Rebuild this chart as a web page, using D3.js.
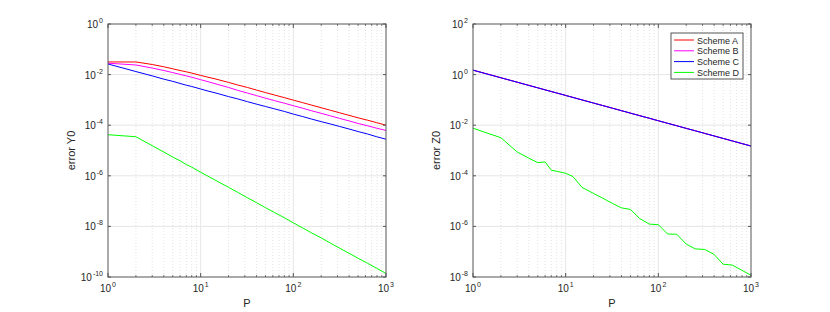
<!DOCTYPE html>
<html>
<head>
<meta charset="utf-8">
<script src="https://cdn.jsdelivr.net/npm/d3@7"></script>
<style>
  body { margin: 0; background: #fff; }
  svg { font-family: "Liberation Sans", Arial, sans-serif; }
</style>
</head>
<body>
<div id="chart"></div>
<script>
// values, shared P grid
const P = [1, 2, 3, 4, 5, 6, 7, 8, 10, 12, 15, 20, 25, 32, 40, 50, 63, 80, 100,
           126, 158, 200, 251, 316, 398, 501, 631, 794, 1000];

// left panel, error Y0
const y0A = [3.16e-2, 3.16e-2, 2.51e-2, 2.04e-2, 1.70e-2, 1.45e-2, 1.29e-2, 1.15e-2, 9.3e-3, 7.9e-3,
             6.5e-3, 4.9e-3, 3.9e-3, 3.1e-3, 2.45e-3, 1.95e-3, 1.55e-3, 1.23e-3, 9.8e-4,
             7.8e-4, 6.2e-4, 4.9e-4, 3.9e-4, 3.1e-4, 2.45e-4, 1.95e-4, 1.58e-4, 1.26e-4, 1.0e-4];
const y0B = [2.82e-2, 2.40e-2, 1.82e-2, 1.45e-2, 1.20e-2, 1.02e-2, 8.9e-3, 7.9e-3, 6.3e-3, 5.25e-3,
             4.17e-3, 3.1e-3, 2.4e-3, 1.86e-3, 1.48e-3, 1.17e-3, 9.3e-4, 7.4e-4, 5.9e-4,
             4.7e-4, 3.7e-4, 2.95e-4, 2.34e-4, 1.86e-4, 1.48e-4, 1.17e-4, 9.5e-5, 7.6e-5, 6.2e-5];
const y0C = [2.63e-2, 1.32e-2, 8.9e-3, 6.6e-3, 5.4e-3, 4.47e-3, 3.8e-3, 3.4e-3, 2.7e-3, 2.24e-3,
             1.82e-3, 1.35e-3, 1.10e-3, 8.5e-4, 6.8e-4, 5.5e-4, 4.4e-4, 3.5e-4, 2.75e-4,
             2.2e-4, 1.74e-4, 1.38e-4, 1.12e-4, 8.9e-5, 7.1e-5, 5.6e-5, 4.5e-5, 3.5e-5, 2.8e-5];
const y0D = [4.2e-5, 3.5e-5, 1.55e-5, 8.7e-6, 5.5e-6, 3.9e-6, 2.8e-6, 2.2e-6, 1.38e-6, 9.6e-7,
             6.2e-7, 3.5e-7, 2.24e-7, 1.35e-7, 8.7e-8, 5.5e-8, 3.5e-8, 2.2e-8, 1.38e-8,
             8.7e-9, 5.5e-9, 3.5e-9, 2.2e-9, 1.38e-9, 8.7e-10, 5.5e-10, 3.5e-10, 2.2e-10, 1.38e-10];

// right panel, error Z0 (A, B and C lie on top of each other)
const z0ABC = [1.5, 0.75, 0.5, 0.375, 0.3, 0.25, 0.214, 0.188, 0.15, 0.125,
               0.1, 0.075, 0.06, 0.047, 0.0375, 0.03, 0.0238, 0.0188, 0.015,
               0.0119, 0.0095, 0.0075, 0.006, 0.00475, 0.00377, 0.003, 0.00238, 0.00189, 0.0015];
const z0D = [7.6e-3, 3.2e-3, 8.7e-4, 5.0e-4, 3.3e-4, 3.55e-4, 1.66e-4, 1.51e-4, 1.26e-4, 9.3e-5,
             3.5e-5, 2.0e-5, 1.32e-5, 8.1e-6, 5.4e-6, 4.7e-6, 2.04e-6, 1.23e-6, 1.17e-6,
             5.0e-7, 4.9e-7, 2.0e-7, 1.29e-7, 1.23e-7, 7.9e-8, 3.2e-8, 2.95e-8, 1.86e-8, 1.17e-8];

const schemes = ["Scheme A", "Scheme B", "Scheme C", "Scheme D"];
const colors = ["#ff0000", "#ff00ff", "#0000ff", "#00ff00"];

const xTickExp = [0, 1, 2, 3];
const y0TickExp = [0, -2, -4, -6, -8, -10];
const z0TickExp = [2, 0, -2, -4, -6, -8];

const W = 830, H = 312;
const svg = d3.select("#chart").append("svg")
    .attr("width", W)
    .attr("height", H);

function panel(left, right, yExp, series, ylab, withLegend) {
  const top = 24, bottom = 277;
  const x = d3.scaleLog().domain([1, 1000]).range([left, right]);
  const y = d3.scaleLog()
      .domain([Math.pow(10, d3.min(yExp)), Math.pow(10, d3.max(yExp))])
      .range([bottom, top]);
  const g = svg.append("g");

  // minor x grid (dotted) and major grid
  const minor = [];
  for (let d = 1; d < 1000; d *= 10)
    for (let k = 2; k <= 9; k++) minor.push(d * k);

  g.selectAll(".xminor").data(minor).enter().append("line")
      .attr("x1", d => x(d)).attr("x2", d => x(d))
      .attr("y1", top).attr("y2", bottom)
      .attr("stroke", "#dadada").attr("stroke-width", 0.8)
      .attr("stroke-dasharray", "1,2");
  g.selectAll(".xmajor").data([10, 100]).enter().append("line")
      .attr("x1", d => x(d)).attr("x2", d => x(d))
      .attr("y1", top).attr("y2", bottom)
      .attr("stroke", "#e6e6e6").attr("stroke-width", 1);
  g.selectAll(".ymajor").data(yExp.slice(1, -1)).enter().append("line")
      .attr("x1", left).attr("x2", right)
      .attr("y1", e => y(Math.pow(10, e))).attr("y2", e => y(Math.pow(10, e)))
      .attr("stroke", "#e6e6e6").attr("stroke-width", 1);

  // data lines
  const line = d3.line().x(d => x(d[0])).y(d => y(d[1]));
  series.forEach((vals, i) => {
    g.append("path")
        .datum(P.map((p, j) => [p, vals[j]]))
        .attr("d", line)
        .attr("fill", "none")
        .attr("stroke", colors[i])
        .attr("stroke-width", 1);
  });

  // ticks (inside, all four sides)
  const axc = "#555";
  g.selectAll(".xt").data(xTickExp).enter().append("path")
      .attr("d", e => { const px = x(Math.pow(10, e));
        return `M${px},${bottom}v-4M${px},${top}v4`; })
      .attr("stroke", axc);
  g.selectAll(".xm").data(minor).enter().append("path")
      .attr("d", d => `M${x(d)},${bottom}v-2M${x(d)},${top}v2`)
      .attr("stroke", axc).attr("stroke-width", 0.8);
  g.selectAll(".yt").data(yExp).enter().append("path")
      .attr("d", e => { const py = y(Math.pow(10, e));
        return `M${left},${py}h3M${right},${py}h-3`; })
      .attr("stroke", axc);

  // box
  g.append("rect")
      .attr("x", left).attr("y", top)
      .attr("width", right - left).attr("height", bottom - top)
      .attr("fill", "none").attr("stroke", axc).attr("stroke-width", 1);

  // tick labels
  const yl = g.selectAll(".ylab").data(yExp).enter().append("text")
      .attr("x", left - 5)
      .attr("y", e => y(Math.pow(10, e)) + 4)
      .attr("text-anchor", "end")
      .attr("font-size", 10)
      .attr("fill", "#262626");
  yl.append("tspan").text("10");
  yl.append("tspan").attr("dx", 1).attr("dy", -5).attr("font-size", 7).text(e => e);

  const xl = g.selectAll(".xlab").data(xTickExp).enter().append("text")
      .attr("x", e => x(Math.pow(10, e)))
      .attr("y", bottom + 15)
      .attr("text-anchor", "middle")
      .attr("font-size", 10)
      .attr("fill", "#262626");
  xl.append("tspan").text("10");
  xl.append("tspan").attr("dx", 1).attr("dy", -5).attr("font-size", 7).text(e => e);

  g.append("text")
      .attr("x", (left + right) / 2).attr("y", 307)
      .attr("text-anchor", "middle")
      .attr("font-size", 11).attr("fill", "#262626")
      .text("P");
  g.append("text")
      .attr("transform", `translate(${left - 33},${(top + bottom) / 2}) rotate(-90)`)
      .attr("text-anchor", "middle")
      .attr("font-size", 11).attr("fill", "#262626")
      .text(ylab);

  if (withLegend) {
    const lg = g.append("g");
    lg.append("rect")
        .attr("x", 671).attr("y", 33).attr("width", 72).attr("height", 46)
        .attr("fill", "#fff").attr("stroke", axc).attr("stroke-width", 1);
    schemes.forEach((s, i) => {
      const ry = 40 + i * 10.8;
      lg.append("line")
          .attr("x1", 674).attr("x2", 694).attr("y1", ry).attr("y2", ry)
          .attr("stroke", colors[i]).attr("stroke-width", 1);
      lg.append("text")
          .attr("x", 697).attr("y", ry + 3.5)
          .attr("font-size", 9).attr("fill", "#262626")
          .text(s);
    });
  }
}

panel(108, 386, y0TickExp, [y0A, y0B, y0C, y0D], "error Y0", false);
panel(473, 751, z0TickExp, [z0ABC, z0ABC, z0ABC, z0D], "error Z0", true);
</script>
</body>
</html>
